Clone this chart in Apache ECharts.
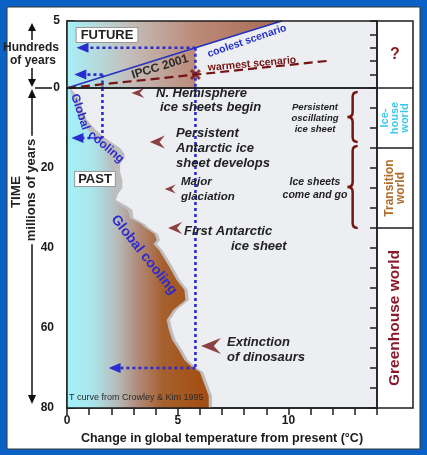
<!DOCTYPE html>
<html>
<head>
<meta charset="utf-8">
<title>Global temperature: past and future</title>
<script src="https://cdn.jsdelivr.net/npm/echarts@6.0.0/dist/echarts.min.js"></script>
<style>
  html, body { margin: 0; padding: 0; background: #0a62c6; }
  #chart { width: 427px; height: 455px; }
</style>
</head>
<body>
<div id="chart"></div>
<script>
// future panel, hundreds of years from now (IPCC 2001)
var coolestHundreds = [0, 3, 5];
var coolestTemp = [0, 5.8, 9.7];
var warmestHundreds = [0, 1, 2.03];
var warmestTemp = [0, 5.8, 11.8];

// past panel, millions of years ago (T curve from Crowley & Kim 1995)
var pastMy =        [0, 3, 5.5, 8, 10.5, 13, 15, 16.5, 17.5, 19, 21, 23, 25, 26.5, 28, 29.5, 30.5, 32.5, 34, 35, 36.5, 38, 39, 40.5, 44.5, 48, 50.5, 53, 55.5, 58, 60.5, 63, 65.5, 68, 70, 71, 74, 77, 80];
var pastOuterTemp = [0.15, 0.6, 0.7, 0.9, 1.3, 1.85, 2.4, 2.6, 2.6, 2.4, 2.4, 2.5, 2.5, 2.3, 2.2, 2.7, 2.95, 3.0, 3.5, 3.7, 4.1, 4.2, 4.05, 4.3, 4.75, 5.1, 5.45, 5.5, 4.95, 4.65, 4.75, 4.9, 5.2, 5.45, 5.85, 6.15, 6.35, 6.55, 6.55];
var pastInnerTemp = [0.1, 0.3, 0.4, 0.6, 0.95, 1.35, 1.65, 1.8, 1.85, 1.95, 2.05, 2.1, 2.1, 2.05, 2.0, 2.45, 2.75, 2.85, 3.35, 3.55, 3.95, 4.05, 3.9, 4.15, 4.6, 4.95, 5.3, 5.35, 4.8, 4.5, 4.6, 4.75, 5.05, 5.3, 5.7, 6.0, 6.2, 6.4, 6.4];

// dotted guides: [from temp, to temp, at]
var futureGuides = [[5.8, 0.7, 3], [1.6, 0.6, 1]];
var pastGuides = [[5.8, 2.15, 70], [1.6, 0.47, 12.5]];

// events pointed at by the red arrows
var eventMy = [1.25, 13.5, 25.25, 35, 64.5];
var eventTemp = [3.2, 4.08, 4.66, 4.88, 6.5];

// right column boundaries (My)
var worldBreaks = [15, 35];

var xTickLabels = [0, 5, 10];
var myTickLabels = [20, 40, 60, 80];
var hundredsTickLabels = [0, 5];

var FONT = '"Liberation Sans", Arial, Helvetica, sans-serif';
var BLUE = '#2c2cce';
var RED = '#741414';
var ARROW_BLUE = 'path://M0,5L12,0L12,10Z';
var ARROW_RED = 'path://M0,6L14,0L9,6L14,12Z';

function zip(a, b) { return a.map(function (v, i) { return [v, b[i]]; }); }

function grad(x0, x1, stops) {
  return new echarts.graphic.LinearGradient(x0, 0, x1, 0, stops, true);
}
var pastStops = [
  { offset: 0, color: '#a2f1f9' },
  { offset: 0.18, color: '#aae6ec' },
  { offset: 0.36, color: '#b6bcbc' },
  { offset: 0.52, color: '#b08a78' },
  { offset: 0.7, color: '#a6602e' },
  { offset: 1, color: '#a44e12' }
];
var futureStops = [
  { offset: 0, color: '#a6f0f8' },
  { offset: 0.12, color: '#b4dde0' },
  { offset: 0.3, color: '#c4bcb8' },
  { offset: 0.6, color: '#bc8a78' },
  { offset: 1, color: '#aa6a52' }
];

var chart = echarts.init(document.getElementById('chart'));

var series = [];

// gradient fill of the future panel (left of the guide, above the coolest line)
series.push({
  type: 'custom', xAxisIndex: 0, yAxisIndex: 0, z: 1, silent: true,
  data: zip(coolestTemp, coolestHundreds),
  renderItem: function (params, api) {
    if (params.dataIndex !== 0) return;
    var n = coolestTemp.length;
    var pts = [api.coord([0, 0]), api.coord([0, coolestHundreds[n - 1]])];
    for (var i = n - 1; i >= 1; i--) pts.push(api.coord([coolestTemp[i], coolestHundreds[i]]));
    pts.push(api.coord([coolestTemp[1], 0]));
    var x0 = api.coord([0, 0])[0], x1 = api.coord([coolestTemp[n - 1], 0])[0];
    return { type: 'polygon', shape: { points: pts }, style: { fill: grad(x0, x1, futureStops) } };
  }
});

// past temperature curve: grey edge + gradient body
series.push({
  type: 'custom', xAxisIndex: 1, yAxisIndex: 1, z: 1, silent: true,
  data: zip(pastOuterTemp, pastMy),
  renderItem: function (params, api) {
    if (params.dataIndex !== 0) return;
    var last = pastMy[pastMy.length - 1];
    var base = [api.coord([0, last]), api.coord([0, 0])];
    var outer = pastMy.map(function (m, i) { return api.coord([pastOuterTemp[i], m]); });
    var inner = pastMy.map(function (m, i) { return api.coord([pastInnerTemp[i], m]); });
    var x0 = api.coord([0, 0])[0], x1 = api.coord([6.2, 0])[0];
    return {
      type: 'group',
      children: [
        { type: 'polygon', shape: { points: outer.concat(base) }, style: { fill: '#bdbdbd' } },
        { type: 'polygon', shape: { points: inner.concat(base) }, style: { fill: grad(x0, x1, pastStops) } }
      ]
    };
  }
});

// IPCC scenarios
series.push({
  type: 'line', xAxisIndex: 0, yAxisIndex: 0, z: 5, symbol: 'none', silent: true,
  data: zip(coolestTemp, coolestHundreds),
  lineStyle: { color: '#2432c0', width: 1.6 }
});
series.push({
  type: 'line', xAxisIndex: 0, yAxisIndex: 0, z: 5, symbol: 'none', silent: true,
  data: zip(warmestTemp, warmestHundreds),
  lineStyle: { color: RED, width: 2.2, type: [9, 5] }
});
series.push({
  type: 'scatter', xAxisIndex: 0, yAxisIndex: 0, z: 7, silent: true,
  data: [[warmestTemp[1], warmestHundreds[1]]],
  symbol: 'path://M0,2L2,0L5,3L8,0L10,2L7,5L10,8L8,10L5,7L2,10L0,8L3,5Z',
  symbolSize: 11,
  itemStyle: { color: RED }
});

// dotted blue guides
var dotted = { color: BLUE, width: 2.6, type: [3, 3] };
function hGuide(g, axis) {
  return {
    type: 'line', xAxisIndex: axis, yAxisIndex: axis, z: 6, silent: true,
    showSymbol: true, symbol: 'none', lineStyle: dotted, itemStyle: { color: BLUE },
    data: [
      { value: [g[0], g[2]], symbol: 'none' },
      { value: [g[1], g[2]], symbol: ARROW_BLUE, symbolSize: [12, 10] }
    ]
  };
}
futureGuides.forEach(function (g) {
  series.push(hGuide(g, 0));
  series.push({
    type: 'line', xAxisIndex: 0, yAxisIndex: 0, z: 6, symbol: 'none', silent: true,
    lineStyle: dotted, data: [[g[0], g[2]], [g[0], 0]]
  });
});
pastGuides.forEach(function (g) {
  series.push(hGuide(g, 1));
  series.push({
    type: 'line', xAxisIndex: 1, yAxisIndex: 1, z: 6, symbol: 'none', silent: true,
    lineStyle: dotted, data: [[g[0], 0], [g[0], g[2]]]
  });
});

// red event arrows
var eventArrowSize = [[13, 10], [15, 13], [11, 9], [14, 12], [20, 16]];
series.push({
  type: 'scatter', xAxisIndex: 1, yAxisIndex: 1, z: 7, silent: true,
  data: zip(eventTemp, eventMy),
  symbol: ARROW_RED,
  symbolSize: function (v, p) { return eventArrowSize[p.dataIndex]; },
  itemStyle: { color: RED }
});

var labelFont = { fontFamily: FONT, fontWeight: 'bold', fontSize: 12, color: '#1a1a1a' };
var axisInk = { color: '#1e1e1e', width: 1.5 };
var hidden = { show: false };

var option = {
  animation: false,
  backgroundColor: '#0a62c6',
  grid: [
    { left: 67, right: 50, top: 21, height: 67, show: true, backgroundColor: '#eceef2', borderWidth: 0, outerBoundsMode: 'none' },
    { left: 67, right: 50, top: 88, height: 320, show: true, backgroundColor: '#eceef2', borderWidth: 0, outerBoundsMode: 'none' }
  ],
  xAxis: [
    { gridIndex: 0, type: 'value', min: 0, max: 14, show: false,
      axisLine: hidden, axisTick: hidden, axisLabel: hidden, splitLine: hidden },
    {
      gridIndex: 1, type: 'value', min: 0, max: 14, interval: 1, position: 'bottom',
      name: 'Change in global temperature from present (\u00b0C)',
      nameLocation: 'middle', nameGap: 24,
      nameTextStyle: { fontFamily: FONT, fontWeight: 'bold', fontSize: 12.5, color: '#1a1a1a' },
      axisLine: { show: true, onZero: false, lineStyle: axisInk },
      axisTick: { show: true, inside: false, length: 7, lineStyle: axisInk },
      splitLine: hidden,
      axisLabel: Object.assign({ margin: 7, showMinLabel: true, showMaxLabel: true,
        formatter: function (v) { return xTickLabels.indexOf(v) >= 0 ? String(v) : ''; } }, labelFont)
    }
  ],
  yAxis: [
    {
      gridIndex: 0, type: 'value', min: 0, max: 5, interval: 1, position: 'left',
      axisLine: { show: true, onZero: false, lineStyle: axisInk },
      axisTick: { show: true, inside: true, length: 7, lineStyle: axisInk },
      splitLine: hidden,
      axisLabel: Object.assign({ margin: 7, showMinLabel: true, showMaxLabel: true,
        formatter: function (v) { return hundredsTickLabels.indexOf(v) >= 0 ? String(v) : ''; } }, labelFont)
    },
    {
      gridIndex: 1, type: 'value', min: 0, max: 80, interval: 5, inverse: true, position: 'left',
      axisLine: { show: true, onZero: false, lineStyle: axisInk },
      axisTick: { show: true, inside: true, length: 8, lineStyle: axisInk },
      splitLine: hidden,
      axisLabel: Object.assign({ margin: 13, showMinLabel: true, showMaxLabel: true,
        formatter: function (v) { return myTickLabels.indexOf(v) >= 0 ? String(v) : ''; } }, labelFont)
    },
    {
      gridIndex: 0, type: 'value', min: 0, max: 5, interval: 1, position: 'right',
      axisLine: { show: false, onZero: false }, axisLabel: hidden, splitLine: hidden,
      axisTick: { show: true, inside: true, length: 7, lineStyle: axisInk }
    },
    {
      gridIndex: 1, type: 'value', min: 0, max: 80, interval: 5, inverse: true, position: 'right',
      axisLine: { show: false, onZero: false }, axisLabel: hidden, splitLine: hidden,
      axisTick: { show: true, inside: true, length: 7, lineStyle: axisInk }
    }
  ],
  series: series
};
chart.setOption(option);

// annotations, placed from the axes' pixel positions
var L = chart.convertToPixel({ xAxisIndex: 1 }, 0);
var R = chart.convertToPixel({ xAxisIndex: 1 }, 14);
var T = chart.convertToPixel({ yAxisIndex: 0 }, 5);
var Z = chart.convertToPixel({ yAxisIndex: 1 }, 0);
var B = chart.convertToPixel({ yAxisIndex: 1 }, 80);
var b1 = chart.convertToPixel({ yAxisIndex: 1 }, worldBreaks[0]);
var b2 = chart.convertToPixel({ yAxisIndex: 1 }, worldBreaks[1]);
var colW = 36;
var braceX = chart.convertToPixel({ xAxisIndex: 1 }, 12.9);
function yMy(v) { return chart.convertToPixel({ yAxisIndex: 1 }, v); }

function txt(x, y, text, size, extra) {
  var st = Object.assign({ text: text, fontFamily: FONT, fontSize: size, fontWeight: 'bold',
    fill: '#222', align: 'left', verticalAlign: 'middle' }, extra && extra.style);
  return Object.assign({ type: 'text', x: x, y: y, z: 50, silent: true, style: st }, extra && extra.el);
}
function it(extra) { return { style: Object.assign({ fontStyle: 'italic' }, extra || {}) }; }

// curly brace made of quadratic curves and two straight runs
function brace(x, y0, y1) {
  var m = (y0 + y1) / 2, w = 5;
  var st = { fill: null, stroke: RED, lineWidth: 2.5 };
  var parts = [
    { type: 'bezierCurve', shape: { x1: x + w, y1: y0, cpx1: x, cpy1: y0, x2: x, y2: y0 + w } },
    { type: 'line', shape: { x1: x, y1: y0 + w, x2: x, y2: m - w } },
    { type: 'bezierCurve', shape: { x1: x, y1: m - w, cpx1: x, cpy1: m, x2: x - w, y2: m } },
    { type: 'bezierCurve', shape: { x1: x - w, y1: m, cpx1: x, cpy1: m, x2: x, y2: m + w } },
    { type: 'line', shape: { x1: x, y1: m + w, x2: x, y2: y1 - w } },
    { type: 'bezierCurve', shape: { x1: x, y1: y1 - w, cpx1: x, cpy1: y1, x2: x + w, y2: y1 } }
  ];
  parts.forEach(function (p) { p.style = st; p.silent = true; });
  return { type: 'group', z: 40, children: parts };
}
var frame = { fill: null, stroke: '#1e1e1e', lineWidth: 1.5 };
var ink = { stroke: '#111', lineWidth: 1.5 };

var graphic = [
  { type: 'rect', z: -1, silent: true, shape: { x: 7, y: 7, width: 413, height: 442 }, style: { fill: '#ffffff', stroke: '#333', lineWidth: 1 } },
  { type: 'rect', z: 0, silent: true, shape: { x: R, y: T, width: colW, height: B - T }, style: { fill: '#ffffff' } },
  // frames
  { type: 'rect', z: 40, silent: true, shape: { x: L, y: T, width: R - L, height: Z - T }, style: frame },
  { type: 'rect', z: 40, silent: true, shape: { x: L, y: Z, width: R - L, height: B - Z }, style: frame },
  { type: 'rect', z: 40, silent: true, shape: { x: R, y: T, width: colW, height: B - T }, style: frame },
  { type: 'line', z: 40, silent: true, shape: { x1: R, y1: Z, x2: R + colW, y2: Z }, style: frame },
  { type: 'line', z: 40, silent: true, shape: { x1: R, y1: b1, x2: R + colW, y2: b1 }, style: frame },
  { type: 'line', z: 40, silent: true, shape: { x1: R, y1: b2, x2: R + colW, y2: b2 }, style: frame },
  { type: 'line', z: 40, silent: true, shape: { x1: 35, y1: Z, x2: 52, y2: Z }, style: ink },
  brace(braceX, yMy(1), yMy(13.5)),
  brace(braceX, yMy(14.5), yMy(35)),
  // left arrows
  { type: 'line', z: 40, silent: true, shape: { x1: 32, y1: 95, x2: 32, y2: 398 }, style: ink },
  { type: 'polygon', z: 40, silent: true, shape: { points: [[32, 89], [28, 98], [36, 98]] }, style: { fill: '#111' } },
  { type: 'polygon', z: 40, silent: true, shape: { points: [[32, 404], [28, 395], [36, 395]] }, style: { fill: '#111' } },
  { type: 'line', z: 40, silent: true, shape: { x1: 32, y1: 29, x2: 32, y2: 40 }, style: ink },
  { type: 'polygon', z: 40, silent: true, shape: { points: [[32, 23], [28, 31], [36, 31]] }, style: { fill: '#111' } },
  { type: 'line', z: 40, silent: true, shape: { x1: 32, y1: 68, x2: 32, y2: 80 }, style: ink },
  { type: 'polygon', z: 40, silent: true, shape: { points: [[32, 87], [28, 79], [36, 79]] }, style: { fill: '#111' } },

  txt(16, 192, 'TIME', 13.5, { el: { rotation: Math.PI / 2 }, style: { align: 'center' } }),
  txt(31, 190, 'millions of years', 13, { el: { rotation: Math.PI / 2 }, style: { align: 'center', backgroundColor: '#ffffff', padding: [0, 3] } }),
  txt(31, 48, 'Hundreds', 12, { style: { align: 'center' } }),
  txt(33, 61, 'of years', 12, { style: { align: 'center' } }),

  txt(107, 35, 'FUTURE', 13, { style: { align: 'center', backgroundColor: '#ffffff', borderColor: '#999', borderWidth: 1, padding: [1, 4, 0, 4] } }),
  txt(95, 179, 'PAST', 13, { style: { align: 'center', backgroundColor: '#ffffff', borderColor: '#999', borderWidth: 1, padding: [1, 3, 0, 3] } }),
  txt(160, 67, 'IPCC 2001', 12, { el: { rotation: 0.3 }, style: { align: 'center', fill: '#2a2a2a' } }),
  txt(247, 41, 'coolest scenario', 10.5, { el: { rotation: 0.33 }, style: { align: 'center', fill: '#2532c8' } }),
  txt(252, 64, 'warmest scenario', 10.5, { el: { rotation: 0.09 }, style: { align: 'center', fill: RED } }),

  txt(80, 112, 'Global', 12, { el: { rotation: -1.25 }, style: { align: 'center', fill: BLUE } }),
  txt(106, 147, 'cooling', 12, { el: { rotation: -0.7 }, style: { align: 'center', fill: BLUE } }),
  txt(144, 255, 'Global cooling', 14, { el: { rotation: -0.9 }, style: { align: 'center', fill: BLUE } }),
  txt(69, 398, 'T curve from Crowley & Kim 1995', 9, { style: { fontWeight: 'normal', fill: '#2a2a2a' } }),

  txt(156, 93, 'N. Hemisphere', 13, it()),
  txt(160, 107, 'ice sheets begin', 13, it()),
  txt(176, 133, 'Persistent', 13, it()),
  txt(176, 148, 'Antarctic ice', 13, it()),
  txt(176, 163, 'sheet develops', 13, it()),
  txt(181, 182, 'Major', 11.5, it()),
  txt(181, 197, 'glaciation', 11.5, it()),
  txt(184, 231, 'First Antarctic', 13, it()),
  txt(231, 246, 'ice sheet', 13, it()),
  txt(227, 342, 'Extinction', 13, it()),
  txt(227, 357, 'of dinosaurs', 13, it()),

  txt(315, 107, 'Persistent', 9.5, it({ align: 'center' })),
  txt(315, 118, 'oscillating', 9.5, it({ align: 'center' })),
  txt(315, 129, 'ice sheet', 9.5, it({ align: 'center' })),
  txt(315, 182, 'Ice sheets', 10.5, it({ align: 'center' })),
  txt(315, 195, 'come and go', 10.5, it({ align: 'center' })),

  txt(R + colW / 2, (T + Z) / 2, '?', 16, { style: { align: 'center', fill: '#8a1a1a' } }),
  txt(R + colW / 2, (Z + b1) / 2, 'Ice-\nhouse\nworld', 11, { el: { rotation: Math.PI / 2 }, style: { align: 'center', fill: '#3cc8ea', lineHeight: 10 } }),
  txt(R + colW / 2, (b1 + b2) / 2, 'Transition\nworld', 12, { el: { rotation: Math.PI / 2 }, style: { align: 'center', fill: '#b06a2a', lineHeight: 11 } }),
  txt(R + colW / 2, (b2 + B) / 2, 'Greenhouse world', 15.5, { el: { rotation: Math.PI / 2 }, style: { align: 'center', fill: '#8a1a2a' } })
];

chart.setOption({ graphic: graphic });
</script>
</body>
</html>
